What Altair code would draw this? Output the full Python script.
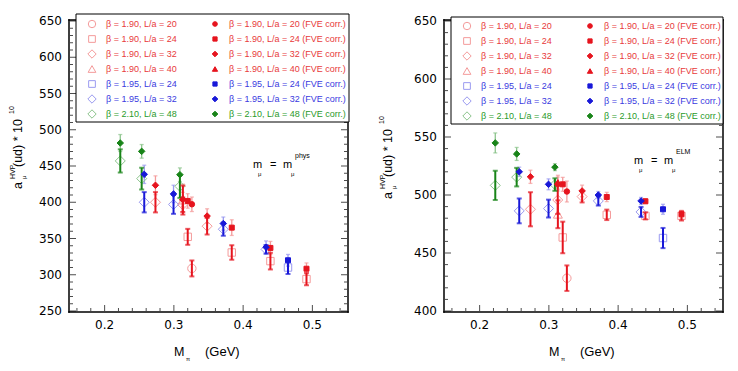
import altair as alt
import pandas as pd

# ---------------- data ----------------
series_keys = ["b190_20", "b190_24", "b190_32", "b190_40", "b195_24", "b195_32", "b210_48"]
series_labels = ["β = 1.90, L/a = 20", "β = 1.90, L/a = 24", "β = 1.90, L/a = 32",
                 "β = 1.90, L/a = 40", "β = 1.95, L/a = 24", "β = 1.95, L/a = 32",
                 "β = 2.10, L/a = 48"]

ens_series = ["b190_20", "b190_24", "b190_24", "b190_24", "b190_24",
              "b190_32", "b190_32", "b190_32", "b190_40", "b195_24",
              "b195_32", "b195_32", "b195_32", "b195_32",
              "b210_48", "b210_48", "b210_48"]
mpi = [0.326, 0.320, 0.3836, 0.4394, 0.4915,
       0.2734, 0.3128, 0.3480, 0.3130, 0.4648,
       0.2572, 0.2995, 0.3714, 0.4331,
       0.2226, 0.2535, 0.3087]

# left panel: m_mu = m_mu^phys
phys_raw = [308.7, 352.3, 330.7, 318.8, 294.0, 400.0, 396.6, 367.0, 403.0, 310.0,
            400.0, 397.0, 362.8, 335.0, 457.0, 432.6, 422.0]
phys_raw_err = [11, 11, 10, 11.5, 8.5, 14, 10, 11.5, 20, 9, 14, 13, 9, 6, 16, 15, 16]
phys_fve = [397.2, 401.8, 365.0, 337.0, 308.3, 423.4, 403.7, 381.0, 406.0, 320.0,
            438.5, 411.5, 370.6, 338.0, 481.7, 470.2, 438.0]
phys_fve_err = [10, 10, 10.8, 9, 8, 13, 10, 10, 19, 8, 12.6, 12, 9, 8.7, 11.7, 9.4, 9.4]

# right panel: m_mu = m_mu^ELM
elm_raw = [428.3, 463.4, 482.9, 482.0, 482.0, 487.7, 495.7, 498.6, 483.4, 462.9,
           486.3, 488.3, 494.9, 485.4, 508.3, 515.4, 509.0]
elm_raw_err = [11, 13.6, 4.5, 3, 4, 14.7, 12, 5, 12, 8.7, 10.7, 7.7, 4, 4.3, 12.6, 8, 5.4]
elm_fve = [503.0, 509.2, 498.3, 494.6, 483.4, 515.7, 509.5, 503.5, 511.0, 487.7,
           520.0, 509.2, 500.0, 494.9, 544.9, 535.4, 524.0]
elm_fve_err = [9, 6, 4, 2, 3.4, 5.7, 6, 5, 6, 4.3, 4, 4.7, 3, 3, 8.6, 5.6, 3]

# ---------------- styles ----------------
FONT = "Liberation Sans"
TICKFONT = "DejaVu Sans"
DARK = {"red": "#e6141e", "blue": "#1818d8", "green": "#188418"}
PALE = {"red": "#f49a9a", "blue": "#9a9af0", "green": "#8cc48c"}
TEXTC = {"red": "#e83a3a", "blue": "#3a3ae0", "green": "#2a9a2a"}
FAMILY = {"b190": "red", "b195": "blue", "b210": "green"}
SHAPE = {"b190_20": "circle", "b190_24": "square", "b190_32": "diamond",
         "b190_40": "triangle-up", "b195_24": "square", "b195_32": "diamond",
         "b210_48": "diamond"}
SIZE_OPEN = {"circle": 70, "square": 55, "diamond": 100, "triangle-up": 80}
SIZE_FILL = {"circle": 30, "square": 25, "diamond": 42, "triangle-up": 36}
LEG_OPEN = {"circle": 55, "square": 45, "diamond": 70, "triangle-up": 60}
LEG_FILL = {"circle": 22, "square": 18, "diamond": 32, "triangle-up": 28}
FVE = " (FVE corr.)"

label_of = dict(zip(series_keys, series_labels))
order, stroke_rng, fill_rng, shape_rng, err_rng = [], [], [], [], []
for k in series_keys:
    fam = FAMILY[k[:4]]
    order += [label_of[k], label_of[k] + FVE]
    stroke_rng += [PALE[fam], DARK[fam]]
    fill_rng += ["transparent", DARK[fam]]
    shape_rng += [SHAPE[k], SHAPE[k]]
    err_rng += [DARK[fam], PALE[fam]]


def build_df(raw, raw_err, fve, fve_err):
    rows = []
    for s, x, v, e, fv, fe in zip(ens_series, mpi, raw, raw_err, fve, fve_err):
        rows.append(dict(mpi=x, val=v, lo=v - e, hi=v + e, kind="raw",
                         label=label_of[s], sz=SIZE_OPEN[SHAPE[s]]))
        rows.append(dict(mpi=x, val=fv, lo=fv - fe, hi=fv + fe, kind="fve",
                         label=label_of[s] + FVE, sz=SIZE_FILL[SHAPE[s]]))
    return pd.DataFrame(rows)


leg_rows = []
for i, k in enumerate(series_keys):
    fam = FAMILY[k[:4]]
    leg_rows.append(dict(row=i, col=0, label=label_of[k], tcol=TEXTC[fam],
                         sz=LEG_OPEN[SHAPE[k]]))
    leg_rows.append(dict(row=i, col=1, label=label_of[k] + FVE, tcol=TEXTC[fam],
                         sz=LEG_FILL[SHAPE[k]]))
leg_df = pd.DataFrame(leg_rows)

one = pd.DataFrame({"k": [0]})


def txt(s, x, y, size, angle=0, baseline="alphabetic"):
    return alt.Chart(one).mark_text(
        text=s, font=FONT, fontSize=size, align="left", baseline=baseline,
        angle=angle, color="black").encode(x=alt.value(x), y=alt.value(y))


W, H = 277, 290
BLACK = alt.value("black")


def strip(x0, x1, y0, y1):
    return alt.Chart(one).mark_rect(fill="black", stroke="black", strokeWidth=0.5).encode(
        x=alt.value(x0), x2=alt.value(x1), y=alt.value(y0), y2=alt.value(y1))


def panel(df, ylo, yhi, box, rows_y, sup_text, ann, ytitle):
    xs = alt.Scale(domain=[0.15, 0.55], nice=False, zero=False)
    ys = alt.Scale(domain=[ylo, yhi], nice=False, zero=False)
    xmaj = [0.2, 0.3, 0.4, 0.5]
    xmin = [round(0.16 + 0.02 * i, 2) for i in range(20)]
    xmin = [v for v in xmin if v not in xmaj and v < 0.55]
    ymaj = list(range(ylo, yhi + 1, 50))
    ymin = [v for v in range(ylo, yhi + 1, 10) if v not in ymaj]

    # plot frame as four thin filled strips lying just outside the plot area
    frame = [strip(-1.5, W + 1.5, -1.5, -0.5), strip(-1.5, W + 1.5, H + 0.5, H + 1.5),
             strip(-1.5, -0.5, -1.5, H + 1.5), strip(W + 0.5, W + 1.5, -1.5, H + 1.5)]

    def xtick(vals, at_top, length):
        yc = length / 2 if at_top else H - length / 2
        return alt.Chart(pd.DataFrame({"v": vals})).mark_tick(
            orient="vertical", size=length, thickness=1).encode(
            x=alt.X("v:Q", scale=xs, axis=None), y=alt.value(yc), color=BLACK)

    def ytick(vals, at_right, length):
        xc = W - length / 2 if at_right else length / 2
        return alt.Chart(pd.DataFrame({"v": vals})).mark_tick(
            orient="horizontal", size=length, thickness=1).encode(
            y=alt.Y("v:Q", scale=ys, axis=None), x=alt.value(xc), color=BLACK)

    ticks = [xtick(xmaj, False, 6), xtick(xmin, False, 3),
             xtick(xmaj, True, 6), xtick(xmin, True, 3),
             ytick(ymaj, False, 6), ytick(ymin, False, 3),
             ytick(ymaj, True, 6), ytick(ymin, True, 3)]
    xlab = alt.Chart(pd.DataFrame({"v": xmaj})).mark_text(
        font=TICKFONT, fontSize=12, align="center", baseline="top", color="black").encode(
        x=alt.X("v:Q", scale=xs, axis=None), y=alt.value(H + 9),
        text=alt.Text("v:Q", format=".1f"))
    ylab = alt.Chart(pd.DataFrame({"v": ymaj})).mark_text(
        font=TICKFONT, fontSize=12, align="right", baseline="middle", color="black").encode(
        y=alt.Y("v:Q", scale=ys, axis=None), x=alt.value(-8),
        text=alt.Text("v:Q", format="d"))

    base = alt.Chart(df)
    enc_common = dict(
        stroke=alt.Stroke("label:N", scale=alt.Scale(domain=order, range=stroke_rng), legend=None),
        fill=alt.Fill("label:N", scale=alt.Scale(domain=order, range=fill_rng), legend=None),
        shape=alt.Shape("label:N", scale=alt.Scale(domain=order, range=shape_rng), legend=None),
        size=alt.Size("sz:Q", scale=None),
    )
    ecol = alt.Color("label:N", scale=alt.Scale(domain=order, range=err_rng), legend=None)
    X = alt.X("mpi:Q", scale=xs, axis=None)

    fve = base.transform_filter(alt.datum.kind == "fve")
    raw = base.transform_filter(alt.datum.kind == "raw")
    rules_fve = fve.mark_rule(strokeWidth=1.3).encode(
        x=X, y=alt.Y("lo:Q", scale=ys, axis=None), y2="hi:Q", color=ecol)
    caps_fve = fve.transform_fold(["lo", "hi"], as_=["end", "yv"]).mark_tick(
        orient="horizontal", size=4, thickness=1.3).encode(
        x=X, y=alt.Y("yv:Q", scale=ys, axis=None), color=ecol)
    pts_raw = raw.mark_point(opacity=1, strokeWidth=1).encode(
        x=X, y=alt.Y("val:Q", scale=ys, axis=None), **enc_common)
    rules_raw = raw.mark_rule(strokeWidth=2).encode(
        x=X, y=alt.Y("lo:Q", scale=ys, axis=None), y2="hi:Q", color=ecol)
    caps_raw = raw.transform_fold(["lo", "hi"], as_=["end", "yv"]).mark_tick(
        orient="horizontal", size=5, thickness=2).encode(
        x=X, y=alt.Y("yv:Q", scale=ys, axis=None), color=ecol)
    pts_fve = fve.mark_point(opacity=1, strokeWidth=1).encode(
        x=X, y=alt.Y("val:Q", scale=ys, axis=None), **enc_common)

    # ---- legend box drawn with marks ----
    bx0, bx1, by0, by1 = box
    lbox = alt.Chart(one).mark_rect(fill="white", stroke="black", strokeWidth=1).encode(
        x=alt.value(bx0), x2=alt.value(bx1), y=alt.value(by0), y2=alt.value(by1))
    lx = alt.X("col:O", scale=alt.Scale(type="point", padding=0, domain=[0, 1], range=[22, 145]), axis=None)
    ly = alt.Y("row:O", scale=alt.Scale(type="point", padding=0, domain=list(range(7)),
                                        range=list(rows_y)), axis=None)
    lbase = alt.Chart(leg_df)
    lsym = lbase.mark_point(opacity=1, strokeWidth=1).encode(x=lx, y=ly, **enc_common)
    ltxt = lbase.mark_text(align="left", baseline="middle", font=FONT, fontSize=9, dx=14).encode(
        x=lx, y=ly, text="label:N", color=alt.Color("tcol:N", scale=None))

    ax0, ay0 = ann
    annots = [
        txt("m", ax0, ay0, 11), txt("μ", ax0 + 5, ay0 + 8, 6),
        txt("=", ax0 + 17, ay0, 11), txt("m", ax0 + 30, ay0, 11),
        txt("μ", ax0 + 38, ay0 + 8, 6), txt(sup_text, ax0 + 42, ay0 - 10, 7),
    ]
    tx, ty = ytitle
    titles = [
        txt("a", tx, ty, 12.5, 270, "middle"),
        txt("HVP", tx - 5.5, ty - 10, 7, 270, "middle"),
        txt("μ", tx + 6, ty - 10, 6, 270, "middle"),
        txt("(ud) * 10", tx, ty - 22, 12.5, 270, "middle"),
        txt("10", tx - 6, ty - 75, 7, 270, "middle"),
        txt("M", 104, H + 45, 12.5), txt("π", 116, H + 50, 6),
        txt("(GeV)", 135, H + 45, 13),
    ]
    return alt.layer(rules_fve, caps_fve, pts_raw, rules_raw, caps_raw, pts_fve,
                     xlab, ylab, *annots, *titles, *ticks, *frame, lbox, lsym, ltxt).resolve_scale(
        x="independent", y="independent").properties(width=W, height=H)


left = panel(build_df(phys_raw, phys_raw_err, phys_fve, phys_fve_err),
             250, 650, (6, 279, -7, 101), (3, 93), "phys", (183, 147), (-52, 168))
right = panel(build_df(elm_raw, elm_raw_err, elm_fve, elm_fve_err),
              400, 650, (6, 278, -4, 103), (5, 95), "ELM", (189, 143), (-57, 178))

chart = alt.hconcat(left, right, spacing=28).resolve_scale(
    stroke="independent", fill="independent", shape="independent", color="independent",
    x="independent", y="independent").properties(
    padding={"left": 0, "top": 5, "right": 0, "bottom": 0}, background="white"
).configure_view(stroke=None)

chart.save("out.html", embed_options={"renderer": "svg", "actions": False})
